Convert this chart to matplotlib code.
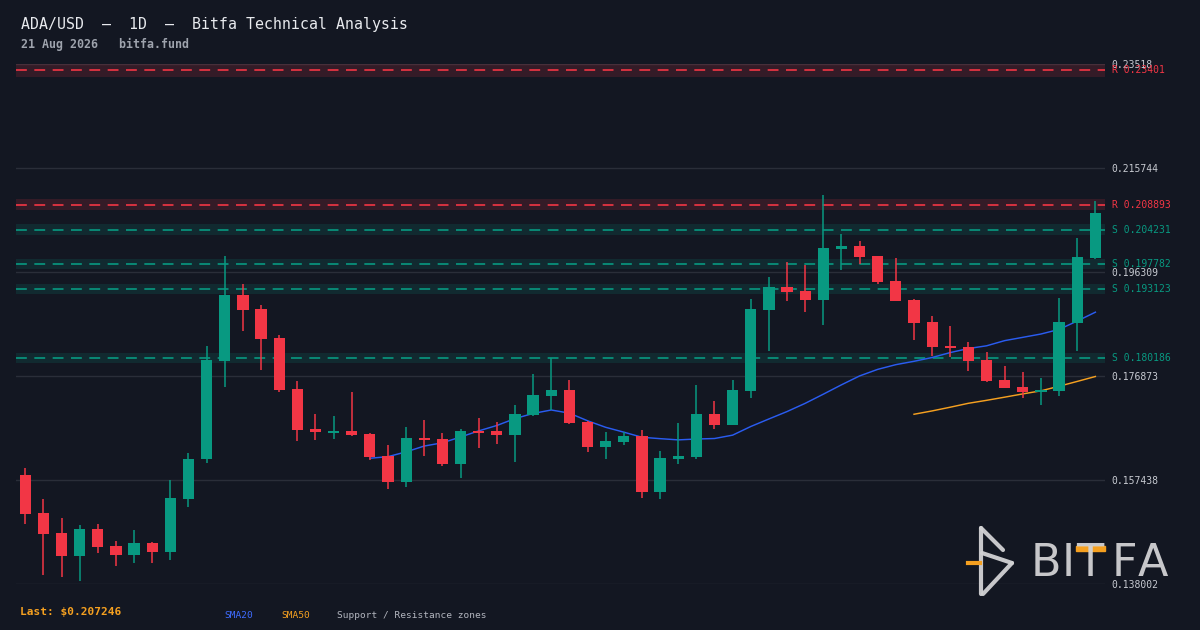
import matplotlib
matplotlib.use("Agg")
import matplotlib.pyplot as plt
from matplotlib.lines import Line2D
from matplotlib.patches import Rectangle
import numpy as np
import pandas as pd

# ---------------- data ----------------
opens = [.1584, .1513, .1475, .1432, .1483, .1451, .1434, .1457, .1440, .1539,
         .1613, .1797, .1920, .1894, .1840, .1744, .1670, .1662, .1666, .1660,
         .1619, .1571, .1653, .1651, .1604, .1666, .1666, .1659, .1696, .1731,
         .1743, .1683, .1636, .1645, .1657, .1552, .1614, .1617, .1698, .1677,
         .1741, .1892, .1935, .1928, .1911, .2006, .2012, .1993, .1946, .1911,
         .1870, .1825, .1823, .1799, .1761, .1748, .1739, .1741, .1868, .1989]
highs = [.1597, .1539, .1503, .1490, .1492, .1460, .1481, .1459, .1574, .1625,
         .1825, .1993, .1941, .1901, .1845, .1759, .1698, .1694, .1739, .1662,
         .1640, .1673, .1687, .1662, .1670, .1690, .1683, .1715, .1773, .1802,
         .1761, .1684, .1664, .1664, .1668, .1629, .1681, .1752, .1722, .1761,
         .1913, .1954, .1982, .1976, .2107, .2034, .2021, .1993, .1989, .1913,
         .1881, .1862, .1832, .1814, .1787, .1776, .1765, .1915, .2027, .2096]
lows = [.1493, .1397, .1393, .1386, .1438, .1414, .1419, .1419, .1425, .1524,
        .1606, .1748, .1853, .1780, .1739, .1647, .1649, .1651, .1657, .1612,
        .1558, .1561, .1619, .1601, .1578, .1634, .1642, .1608, .1694, .1705,
        .1679, .1627, .1614, .1640, .1541, .1539, .1604, .1614, .1670, .1677,
        .1728, .1815, .1909, .1888, .1864, .1967, .1978, .1941, .1909, .1836,
        .1806, .1804, .1778, .1758, .1746, .1728, .1715, .1731, .1816, .1987]
closes = [.1511, .1473, .1432, .1483, .1449, .1434, .1457, .1440, .1541, .1614,
          .1799, .1920, .1892, .1838, .1743, .1668, .1665, .1666, .1658, .1617,
          .1571, .1653, .1649, .1604, .1666, .1662, .1659, .1698, .1733, .1743,
          .1681, .1636, .1647, .1657, .1552, .1616, .1619, .1698, .1677, .1743,
          .1894, .1935, .1926, .1911, .2008, .2012, .1991, .1944, .1909, .1868,
          .1823, .1821, .1797, .1759, .1746, .1739, .1743, .1870, .1991, .207246]

resistance_levels = [0.23401, 0.208893]
support_levels = [0.204231, 0.197782, 0.193123, 0.180186]
zone_pct = 0.005

y_ticks = [0.138002, 0.157438, 0.176873, 0.196309, 0.215744, 0.23518]
y_tick_labels = ["0.138002", "0.157438", "0.176873", "0.196309", "0.215744", "0.23518"]

title = "ADA/USD  \u2014  1D  \u2014  Bitfa Technical Analysis"
subtitle = "21 Aug 2026   bitfa.fund"
last_price = 0.207246

# ---------------- style ----------------
BG = "#131722"
UP = "#089981"
DOWN = "#f23645"
GRID = "#2a2e39"
TXT = "#c7cad1"
BLUE = "#2a5cf0"
ORANGE = "#f5a020"
MONO = ["DejaVu Sans Mono"]

W, H = 1200, 630
fig = plt.figure(figsize=(12, 6.3), dpi=100, facecolor=BG)
ax = fig.add_axes([16 / W, 1 - 584 / H, (1105 - 16) / W, (584 - 64) / H])
ax.set_facecolor(BG)
for s in ax.spines.values():
    s.set_visible(False)

n = len(closes)
x = np.arange(n)
ax.set_xlim(-0.51, n - 1 + 0.53)
ax.set_ylim(y_ticks[0], y_ticks[-1])

# grid
for t in y_ticks:
    ax.axhline(t, color=GRID, lw=1.0, zorder=0)

# zones
for lvl in resistance_levels:
    ax.axhspan(lvl * (1 - zone_pct), lvl * (1 + zone_pct), color=DOWN, alpha=0.15, lw=0, zorder=1)
    ax.axhline(lvl, color=DOWN, lw=1.2, ls=(0, (6.5, 4.5)), zorder=2)
for lvl in support_levels:
    ax.axhspan(lvl * (1 - zone_pct), lvl * (1 + zone_pct), color=UP, alpha=0.15, lw=0, zorder=1)
    ax.axhline(lvl, color=UP, lw=1.2, ls=(0, (6.5, 4.5)), zorder=2)

# SMAs
cs = pd.Series(closes)
sma20 = cs.rolling(20).mean()
sma50 = cs.rolling(50).mean()
ax.plot(x, sma20, color=BLUE, lw=1.05, zorder=3)
ax.plot(x, sma50, color=ORANGE, lw=1.05, zorder=3)

# candles
o = np.array(opens); h = np.array(highs); l = np.array(lows); c = np.array(closes)
colors = np.where(c >= o, UP, DOWN)
ax.vlines(x, l, h, colors=colors, lw=1.1, zorder=4)
body_lo = np.minimum(o, c)
body_h = np.maximum(np.abs(c - o), 0.00035)
ax.bar(x, body_h, bottom=body_lo, width=0.62, color=colors, lw=0, zorder=5)

# axis labels
ax.set_xticks([])
ax.yaxis.tick_right()
ax.set_yticks(y_ticks)
ax.set_yticklabels(y_tick_labels)
ax.tick_params(axis="y", length=0, pad=4.5, labelsize=7, labelcolor=TXT)
for lab in ax.get_yticklabels():
    lab.set_family(MONO)

tr = ax.get_yaxis_transform()
xoff = 1 + 6.5 / (1105 - 16)
for lvl in resistance_levels:
    ax.text(xoff, lvl, f"R {lvl:.6g}", transform=tr, color=DOWN, fontsize=7,
            family=MONO, va="center", ha="left", clip_on=False)
for lvl in support_levels:
    ax.text(xoff, lvl, f"S {lvl:.6g}", transform=tr, color=UP, fontsize=7,
            family=MONO, va="center", ha="left", clip_on=False)

# header
fig.text(21 / W, 1 - 24 / H, title, color="#e8eaee", fontsize=10.75, family=MONO,
         va="center", ha="left")
fig.text(21 / W, 1 - 44.5 / H, subtitle, color="#9ea3ad", fontsize=8.35, family=MONO,
         fontweight="bold", va="center", ha="left")

# footer
fig.text(20 / W, 1 - 612 / H, f"Last: ${last_price:.6f}", color=ORANGE, fontsize=8,
         family=MONO, fontweight="bold", va="center", ha="left")
fig.text(224 / W, 1 - 615 / H, "SMA20", color="#3f6cff", fontsize=6.8, family=MONO,
         va="center", ha="left")
fig.text(281 / W, 1 - 615 / H, "SMA50", color=ORANGE, fontsize=6.8, family=MONO,
         va="center", ha="left")
fig.text(337 / W, 1 - 615 / H, "Support / Resistance zones", color="#b2b5be", fontsize=6.8,
         family=MONO, va="center", ha="left")

# logo
LOGO = "#d2d2d4"
def px(xp, yp):
    return [v / W for v in xp], [1 - v / H for v in yp]

for xs, ys in [([981, 981], [528, 594]),
               ([981, 1003], [528, 550]),
               ([982, 1012], [553, 563]),
               ([1012, 983], [563, 594])]:
    fx, fy = px(xs, ys)
    fig.add_artist(Line2D(fx, fy, color=LOGO, lw=3.0, solid_capstyle="round",
                          transform=fig.transFigure, alpha=0.95))
fx, fy = px([968, 980], [563, 563])
fig.add_artist(Line2D(fx, fy, color=ORANGE, lw=3.0, transform=fig.transFigure))

for ch, cx in [("B", 1046), ("I", 1068), ("T", 1090), ("F", 1124), ("A", 1153)]:
    fig.text(cx / W, 1 - 564 / H, ch, color=LOGO, fontsize=32, family=["DejaVu Sans"],
             va="center", ha="center", alpha=0.95)
fig.add_artist(Rectangle((1076 / W, 1 - 551 / H), 29 / W, 5 / H, color=ORANGE,
                         transform=fig.transFigure))

fig.savefig("out.png", dpi=100, facecolor=BG)
